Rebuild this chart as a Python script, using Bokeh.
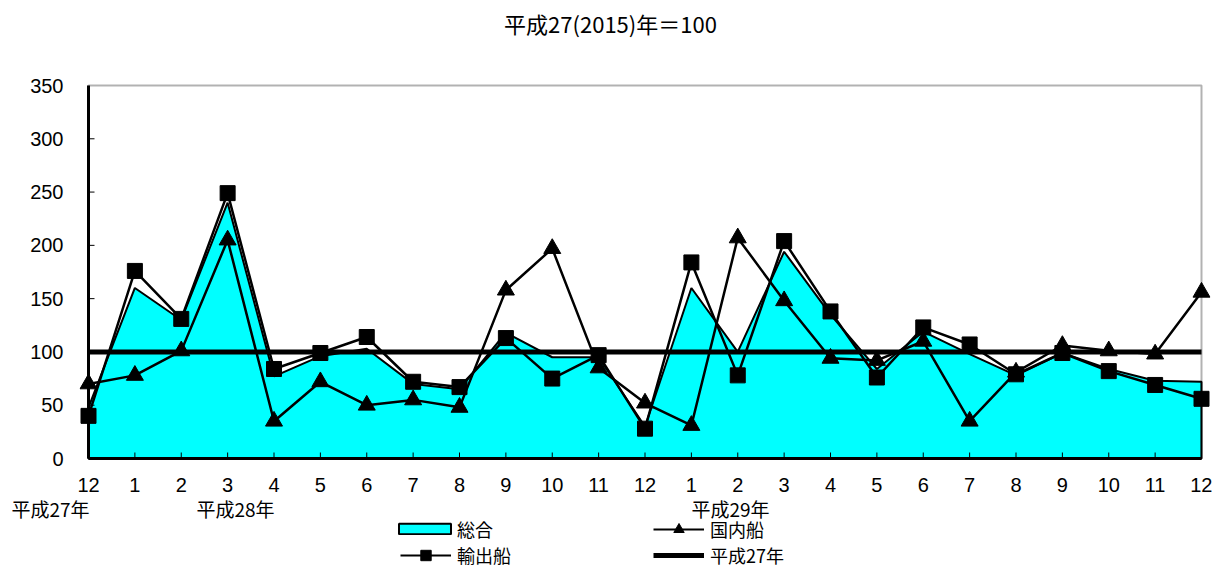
from bokeh.plotting import figure
from bokeh.layouts import column
from bokeh.models import Range1d, FixedTicker, Legend, LegendItem, BoxAnnotation
from bokeh.core.properties import value
from bokeh.embed import file_html
from bokeh.resources import INLINE

# ---- data ----
months = ["12", "1", "2", "3", "4", "5", "6", "7", "8", "9", "10", "11",
          "12", "1", "2", "3", "4", "5", "6", "7", "8", "9", "10", "11", "12"]
total = [48, 160, 130, 240, 77, 96, 103, 70, 65, 118, 95, 95,
         30, 160, 100, 194, 135, 84, 119, 98, 78, 99, 84, 73, 72]
domestic = [70, 78, 101, 205, 35, 72, 50, 55, 48, 158, 197, 85,
            52, 31, 207, 148, 94, 92, 110, 35, 81, 106, 101, 98, 156]
export = [40, 176, 131, 249, 84, 99, 114, 72, 67, 113, 75, 97,
          28, 184, 78, 204, 138, 76, 123, 107, 79, 99, 82, 69, 56]
base = [100] * len(months)
y_ticks = [0, 50, 100, 150, 200, 250, 300, 350]
year_labels = ["平成27年", "平成28年", "平成29年"]
series_names = ["総合", "国内船", "輸出船", "平成27年"]
title_text = "平成27(2015)年＝100"

CJK = "Noto Sans CJK JP"
LAT = "Liberation Sans"
CYAN = "#00FFFF"
W = 1212
n = len(months)
xs = list(range(n))
YMAX = y_ticks[-1]
PX_X = 1113 / (n - 1)
PX_Y = 373 / YMAX
pad_x = 9 / PX_X
pad_y = 2 / PX_Y


def strip(h):
    f = figure(width=W, height=h, output_backend="svg", toolbar_location=None,
               x_range=Range1d(0, W), y_range=Range1d(h, 0),
               x_axis_location=None, y_axis_location=None,
               min_border_left=0, min_border_right=0, min_border_top=0, min_border_bottom=0)
    f.frame_align = False
    f.outline_line_color = None
    f.grid.visible = False
    f.background_fill_color = "white"
    f.border_fill_color = "white"
    return f


# ---------------- title strip ----------------
TH = 38
t = strip(TH)
t.text(x=[610], y=[22], text=[title_text], text_align="center", text_baseline="middle",
       text_font=value(CJK), text_font_size="22px", text_color="black")

# ---------------- main chart ----------------
p = figure(width=W, height=494 - TH, output_backend="svg", toolbar_location=None,
           x_range=Range1d(-pad_x, n - 1 + pad_x), y_range=Range1d(-pad_y, YMAX + pad_y),
           min_border_left=79, min_border_right=2, min_border_top=83 - TH, min_border_bottom=34)
p.frame_align = False
p.outline_line_color = None
p.grid.visible = False
p.background_fill_color = "white"
p.border_fill_color = "white"

p.xaxis.ticker = FixedTicker(ticks=xs)
p.xaxis.major_label_overrides = {i: m for i, m in enumerate(months)}
p.yaxis.ticker = FixedTicker(ticks=y_ticks)
for ax in (p.xaxis, p.yaxis):
    ax.axis_line_color = None
    ax.major_tick_line_color = None
    ax.minor_tick_line_color = None
    ax.major_label_text_font = LAT
    ax.major_label_text_font_size = "20px"
    ax.major_label_text_color = "black"
p.xaxis.major_label_standoff = 11
p.yaxis.major_label_standoff = 10

# area (総合)
p.patch(xs + [n - 1, 0], total + [0, 0], fill_color=CYAN, line_color="black", line_width=2)

# inner ticks
inner_y = y_ticks[1:-1]
p.segment(x0=[0] * len(inner_y), y0=inner_y, x1=[6 / PX_X] * len(inner_y), y1=inner_y,
          line_color="black", line_width=1)
inner_x = xs[1:-1]
p.segment(x0=inner_x, y0=[0] * len(inner_x), x1=inner_x, y1=[6 / PX_Y] * len(inner_x),
          line_color="black", line_width=1)

# base line, domestic, export
p.line(xs, base, line_color="black", line_width=5)
p.line(xs, domestic, line_color="black", line_width=2.5)
p.scatter(xs, domestic, marker="triangle", size=17, fill_color="black", line_color="black")
p.line(xs, export, line_color="black", line_width=2.5)
p.scatter(xs, export, marker="square", size=15, fill_color="black", line_color="black")

# frame
p.add_layout(BoxAnnotation(left=0, right=n - 1, bottom=0, top=YMAX, fill_alpha=0,
                           line_color="black", line_width=2))
p.segment(x0=[0, 0], y0=[0, 0], x1=[0, n - 1], y1=[YMAX, 0], line_color="black", line_width=3)

# ---------------- bottom strip: year labels + legend ----------------
QH = 568 - 494
q = strip(QH)
q.text(x=[50, 235, 730], y=[13.5, 13.5, 13.5], text=year_labels, text_align="center",
       text_baseline="middle", text_font=value(CJK), text_font_size="19px", text_color="black")

l_total = q.patch(xs + [n - 1, 0], total + [0, 0], fill_color=CYAN, line_color="black",
                  line_width=2, visible=False)
l_dom_l = q.line(xs, domestic, line_color="black", line_width=2, visible=False)
l_dom_m = q.scatter(xs, domestic, marker="triangle", fill_color="black", line_color="black",
                    visible=False)
l_exp_l = q.line(xs, export, line_color="black", line_width=2, visible=False)
l_exp_m = q.scatter(xs, export, marker="square", fill_color="black", line_color="black",
                    visible=False)
l_base = q.line(xs, base, line_color="black", line_width=5, visible=False)


def add_legend(label, renderers, vx, vy, gw, gh, lh, standoff):
    lg = Legend(items=[LegendItem(label=label, renderers=renderers)], location=(vx, vy),
                orientation="horizontal", glyph_width=gw, glyph_height=gh, label_height=lh,
                label_standoff=standoff, padding=0, margin=0, spacing=0,
                border_line_color=None, background_fill_alpha=0,
                label_text_font=CJK, label_text_font_size="18px", label_text_color="black")
    q.add_layout(lg, "center")


ROW1, ROW2 = 26.5, 0
add_legend(series_names[0], [l_total], 392, ROW1, 65, 13, 12, 0)
add_legend(series_names[1], [l_dom_l, l_dom_m], 653, ROW1, 51, 26, 26, 6)
add_legend(series_names[2], [l_exp_l, l_exp_m], 400, ROW2, 51, 26, 26, 6)
add_legend(series_names[3], [l_base], 653, ROW2, 51, 26, 26, 6)

layout = column(t, p, q, spacing=0)
open("out.html", "w").write(file_html(layout, INLINE))
